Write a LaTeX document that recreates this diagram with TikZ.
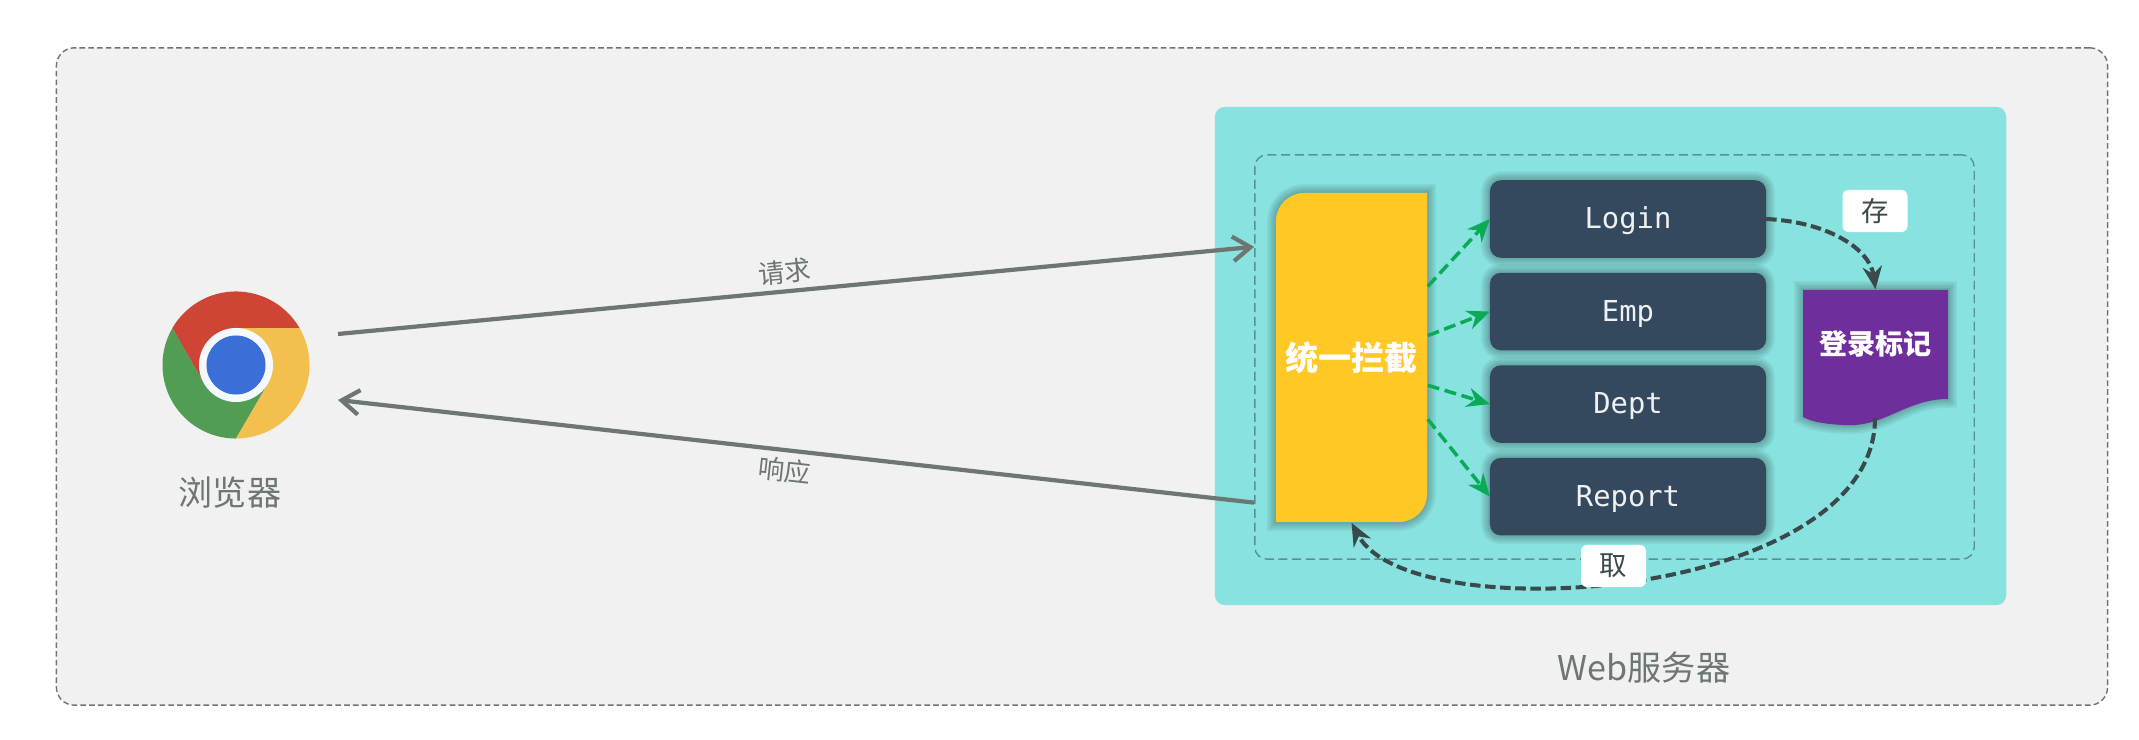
\documentclass[tikz,border=0pt]{standalone}
\usepackage{fontspec}
\setmainfont{Noto Sans CJK SC}
\newfontfamily\codefont{DejaVu Sans Mono}
\usepackage{tikz}
\usetikzlibrary{arrows.meta, positioning}

\definecolor{panelgray}{HTML}{F1F1F1}
\definecolor{edgegray}{HTML}{6D7672}
\definecolor{serverteal}{HTML}{88E2E0}
\definecolor{gold}{HTML}{FFC824}
\definecolor{slatebox}{HTML}{34495E}
\definecolor{markpurple}{HTML}{702E9C}
\definecolor{flowgreen}{HTML}{0BAA57}
\definecolor{flowdark}{HTML}{3A4A4A}
\definecolor{chromered}{HTML}{CE4435}
\definecolor{chromeyellow}{HTML}{F3BF4E}
\definecolor{chromegreen}{HTML}{509D53}
\definecolor{chromeblue}{HTML}{3A6FD8}

\tikzset{
  halo/.style={preaction={draw=black, draw opacity=0.05, line width=#1}},
  softshadow/.style={halo=5pt, halo=4pt, halo=3pt, halo=2pt, halo=1pt},
  servlet/.style={fill=slatebox, rounded corners=0.11cm, minimum width=2.76cm, minimum height=0.775cm, inner sep=0pt, outer sep=0pt, text=white!92!slatebox, text height=6.5pt, text depth=1.1pt, font=\codefont\fontsize{8.2}{10}\selectfont, softshadow},
  tag/.style={fill=white, rounded corners=0.06cm, minimum width=0.65cm, minimum height=0.42cm, inner sep=0pt, text=flowdark, font=\fontsize{7.8}{9}\selectfont},
  caption/.style={text=edgegray, inner sep=0pt, font=\fontsize{9.7}{11}\selectfont},
  greyflow/.style={draw=edgegray, line width=1.2pt, -{Straight Barb[length=5pt,width=7pt]}},
  greenflow/.style={draw=flowgreen, line width=1pt, dash pattern=on 3.4pt off 1.6pt, -{Stealth[length=6.5pt,width=5.5pt]}},
  darkflow/.style={draw=flowdark, line width=1.15pt, dash pattern=on 3pt off 1.3pt, -{Stealth[length=6.5pt,width=5.5pt]}},
  edgelabel/.style={text=edgegray, inner sep=1pt, font=\fontsize{7.5}{9}\selectfont},
}

\begin{document}
\begin{tikzpicture}[x=0.01cm,y=-0.01cm]
  \useasboundingbox (0,0) rectangle (2139,740);
  \node[draw=black!55, fill=panelgray, rounded corners=0.18cm, line width=0.4pt, dash pattern=on 1.6pt off 0.9pt, minimum width=20.5cm, minimum height=6.57cm] (panel) at (1082,376.5) {};
  \node[fill=serverteal, rounded corners=0.1cm, minimum width=7.91cm, minimum height=4.98cm] (server) at (1610.5,356) {};
  \node[draw=black!35!serverteal, rounded corners=0.12cm, line width=0.4pt, dash pattern=on 2.6pt off 1.3pt, minimum width=7.19cm, minimum height=4.04cm] (gateway) at (1614.5,357) {};
  \node[caption] (serverlabel) at (1644,668) {Web服务器};

  % browser icon
  \node[circle, minimum size=1.47cm, inner sep=0pt] (browser) at (236,365) {};
  \begin{scope}[shift={(browser.center)}, y=0.01cm]
    \foreach \ang/\col in {30/chromered, 150/chromegreen, 270/chromeyellow}
      \fill[\col, rotate=\ang] (0:73.5) arc[start angle=0, end angle=120, radius=0.735cm] -- (180:37) -- (60:37) -- cycle;
    \fill[white!95!chromeblue] (0,0) circle[radius=0.37cm];
    \fill[chromeblue] (0,0) circle[radius=0.295cm];
  \end{scope}
  \node[caption] (browserlabel) at (230,493) {浏览器};

  % interceptor and mark shapes, text goes on top
  \fill[gold, softshadow] (1427,193) [rounded corners=0.28cm] -- (1276,193) [sharp corners] -- (1276,522) [rounded corners=0.28cm] -- (1427,522) [sharp corners] -- cycle;
  \node[minimum width=1.51cm, minimum height=3.29cm, inner sep=0pt, text=white, font=\bfseries\fontsize{9.4}{11}\selectfont] (intercept) at (1351.5,357.5) {统一拦截};
  \fill[markpurple, softshadow] (1803,290) -- (1948,290) -- (1948,399) .. controls (1905,399) and (1885,428) .. (1843,425) .. controls (1825,424) and (1812,422) .. (1803,417) -- cycle;
  \node[minimum width=1.45cm, minimum height=1.07cm, inner sep=0pt, text=white, font=\bfseries\fontsize{8}{10}\selectfont] (mark) at (1875.5,343.5) {登录标记};
  \coordinate (markfoot) at (1875,418);

  \node[servlet] (login) at (1628,219) {Login};
  \node[servlet, below=0.15cm of login] (emp) {Emp};
  \node[servlet, below=0.15cm of emp] (dept) {Dept};
  \node[servlet, below=0.15cm of dept] (report) {Report};

  \foreach \ang/\svc in {43/login, 16/emp, -20/dept, -39/report}
    \draw[greenflow] (intercept.\ang) -- (\svc.west);

  \draw[darkflow] (login.east) .. controls (1830,222) and (1870,250) .. (mark.north);
  \draw[darkflow] (markfoot) .. controls (1875,600) and (1410,632) .. (intercept.south);
  \node[tag] (savetag) at (1875,211) {存};
  \node[tag] (loadtag) at (1613.5,566) {取};

  \coordinate (reqstart) at (338,334);
  \coordinate (respend) at (338,400);
  \draw[greyflow] (reqstart) -- node[edgelabel, pos=0.49, above=0.02cm, sloped] (reqlabel) {请求} (gateway.163);
  \draw[greyflow] (gateway.202) -- node[edgelabel, pos=0.51, below=0.02cm, sloped] (resplabel) {响应} (respend);
\end{tikzpicture}
\end{document}
